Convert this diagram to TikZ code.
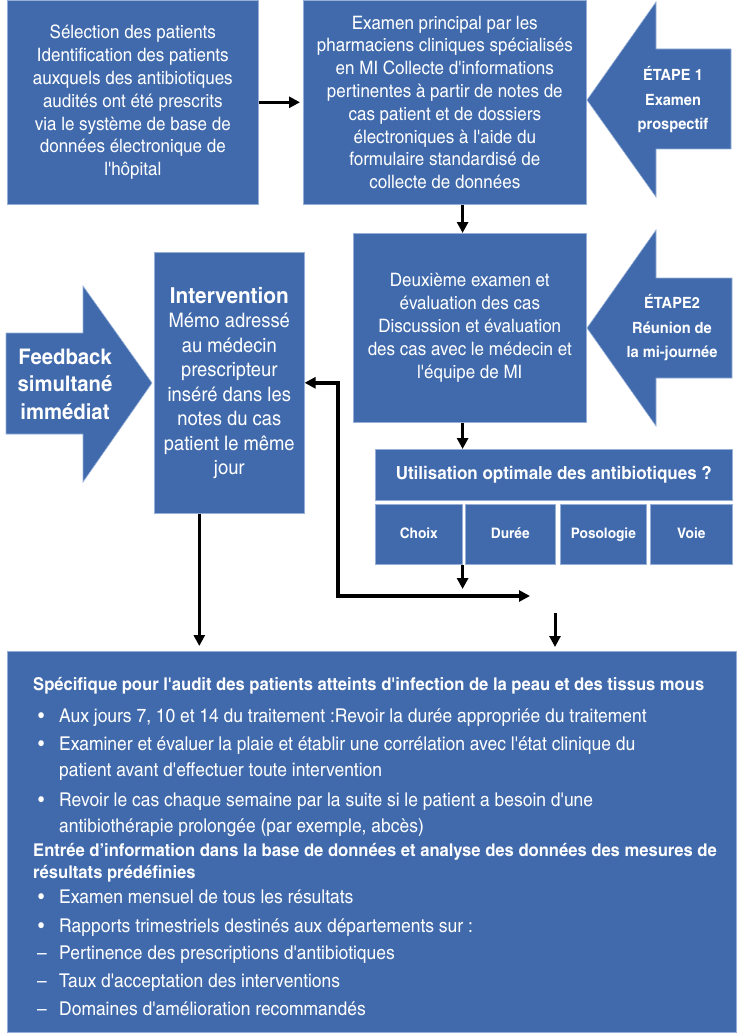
\documentclass[tikz,border=0pt]{standalone}
\usepackage{fontspec}
\setmainfont{texgyreheroscn}[Extension=.otf, UprightFont=*-regular, BoldFont=*-bold, ItalicFont=*-italic, BoldItalicFont=*-bolditalic, Ligatures=TeXOff, UprightFeatures={FakeStretch=1.12}, BoldFeatures={FakeStretch=1.15}]
\usetikzlibrary{arrows.meta}
\definecolor{miblue}{RGB}{64,106,172}
\definecolor{miedge}{RGB}{150,175,215}
\tikzset{
  box/.style={fill=miblue, draw=miedge, line width=0.6pt, text=white, align=center, inner sep=0pt, anchor=north west, font=\fontsize{18.5}{22.8}\selectfont},
  choicebox/.style={box, minimum height=60pt, text height=10.5pt, text depth=3pt, font=\bfseries\fontsize{14.5}{17}\selectfont},
  steptxt/.style={text=white, align=center, inner sep=0pt, font=\bfseries\fontsize{15.5}{24.5}\selectfont},
  audittxt/.style={text=white, anchor=base west, inner sep=0pt, font=\fontsize{19}{22}\selectfont},
  audithead/.style={audittxt, font=\bfseries\fontsize{17.6}{20}\selectfont},
  flowarrow/.style={line width=3pt, -{Triangle[length=11pt,width=11pt]}},
  looparrow/.style={line width=3.5pt, {Triangle[length=11pt,width=11pt]}-{Triangle[length=11pt,width=11pt]}},
}
\begin{document}
\begin{tikzpicture}[x=1pt,y=-1pt]
\useasboundingbox (0,0) rectangle (743,1035);
% step arrows
\fill[miblue, draw=miedge, line width=0.6pt] (587,100) -- (656,2) -- (656,49) -- (731,49) -- (731,149) -- (656,149) -- (656,197) -- cycle;
\fill[miblue, draw=miedge, line width=0.6pt] (587,328) -- (656,230) -- (656,278) -- (732,278) -- (732,378) -- (656,378) -- (656,426) -- cycle;
\fill[miblue, draw=miedge, line width=0.6pt] (6,333) -- (83,333) -- (83,286) -- (152,383) -- (83,482) -- (83,434) -- (6,434) -- cycle;
\node[steptxt] (etape1) at (673,100) {ÉTAPE 1\\Examen\\prospectif};
\node[steptxt] (etape2) at (672,328) {ÉTAPE2\\Réunion de\\la mi-journée};
\node[steptxt, font=\bfseries\fontsize{21.5}{27.5}\selectfont] (feedback) at (65,384) {Feedback\\simultané\\immédiat};
% boxes
\node[box, minimum width=251pt, minimum height=204pt] (sel) at (7,0) {Sélection des patients\\Identification des patients\\auxquels des antibiotiques\\audités ont été prescrits\\via le système de base de\\données électronique de\\l'hôpital};
\node[box, minimum width=283pt, minimum height=204pt] (exam) at (303,0) {Examen principal par les\\pharmaciens cliniques spécialisés\\en MI Collecte d'informations\\pertinentes à partir de notes de\\cas patient et de dossiers\\électroniques à l'aide du\\formulaire standardisé de\\collecte de données};
\node[box, minimum width=233pt, minimum height=189pt] (deux) at (353,233) {Deuxième examen et\\évaluation des cas\\Discussion et évaluation\\des cas avec le médecin et\\l'équipe de MI};
\node[box, minimum width=150pt, minimum height=261pt, font=\fontsize{20}{24.5}\selectfont] (interv) at (154,252) {{\bfseries\fontsize{22}{26}\selectfont Intervention}\\Mémo adressé\\au médecin\\prescripteur\\inséré dans les\\notes du cas\\patient le même\\jour};
\node[box, minimum width=357pt, minimum height=51pt, font=\bfseries\fontsize{18}{21}\selectfont] (util) at (375,449) {Utilisation optimale des antibiotiques ?};
\node[choicebox, minimum width=87pt] (choix) at (375,504) {Choix};
\node[choicebox, minimum width=90pt] (duree) at (465,504) {Durée};
\node[choicebox, minimum width=86pt] (poso) at (560,504) {Posologie};
\node[choicebox, minimum width=82pt] (voie) at (650,504) {Voie};
\node[box, minimum width=729pt, minimum height=381pt] (audit) at (7,651) {};
% connectors
\coordinate (loopR) at (530,596);
\coordinate (loopL) at (338,596);
\coordinate (fromloop) at (555,613);
\draw[flowarrow, shorten >=3pt] (sel.east) -- (exam.west);
\draw[flowarrow] (exam.south -| choix.east) -- (deux.north -| choix.east);
\draw[flowarrow] (deux.south -| choix.east) -- (util.north -| choix.east);
\draw[flowarrow, shorten >=7pt] (choix.south east) -- (choix.south east |- loopL);
\draw[looparrow] (loopR) -- (loopL) |- (interv.east);
\draw[flowarrow, shorten >=5pt] ([xshift=-30pt]interv.south) -- ([xshift=-30pt]interv.south |- audit.north);
\draw[flowarrow, shorten >=4pt] (fromloop) -- (fromloop |- audit.north);
% audit text
\node[audithead] (h1) at (33,690) {Spécifique pour l'audit des patients atteints d'infection de la peau et des tissus mous};
\node[audittxt] (b1) at (38,722) {•};
\node[audittxt] (t1) at (59,722) {Aux jours 7, 10 et 14 du traitement :Revoir la durée appropriée du traitement};
\node[audittxt] (b2) at (38,750) {•};
\node[audittxt] (t2) at (59,750) {Examiner et évaluer la plaie et établir une corrélation avec l'état clinique du};
\node[audittxt] (t2b) at (59,776) {patient avant d'effectuer toute intervention};
\node[audittxt] (b3) at (38,806) {•};
\node[audittxt] (t3) at (59,806) {Revoir le cas chaque semaine par la suite si le patient a besoin d'une};
\node[audittxt] (t3b) at (59,832) {antibiothérapie prolongée (par exemple, abcès)};
\node[audithead] (h2) at (33,856) {Entrée d’information dans la base de données et analyse des données des mesures de};
\node[audithead] (h2b) at (33,878) {résultats prédéfinies};
\node[audittxt] (b4) at (38,903) {•};
\node[audittxt] (t4) at (59,903) {Examen mensuel de tous les résultats};
\node[audittxt] (b5) at (38,932) {•};
\node[audittxt] (t5) at (59,932) {Rapports trimestriels destinés aux départements sur :};
\node[audittxt] (d1) at (37,959) {–};
\node[audittxt] (t6) at (59,959) {Pertinence des prescriptions d'antibiotiques};
\node[audittxt] (d2) at (37,987) {–};
\node[audittxt] (t7) at (59,987) {Taux d'acceptation des interventions};
\node[audittxt] (d3) at (37,1015) {–};
\node[audittxt] (t8) at (59,1015) {Domaines d'amélioration recommandés};
\end{tikzpicture}
\end{document}
